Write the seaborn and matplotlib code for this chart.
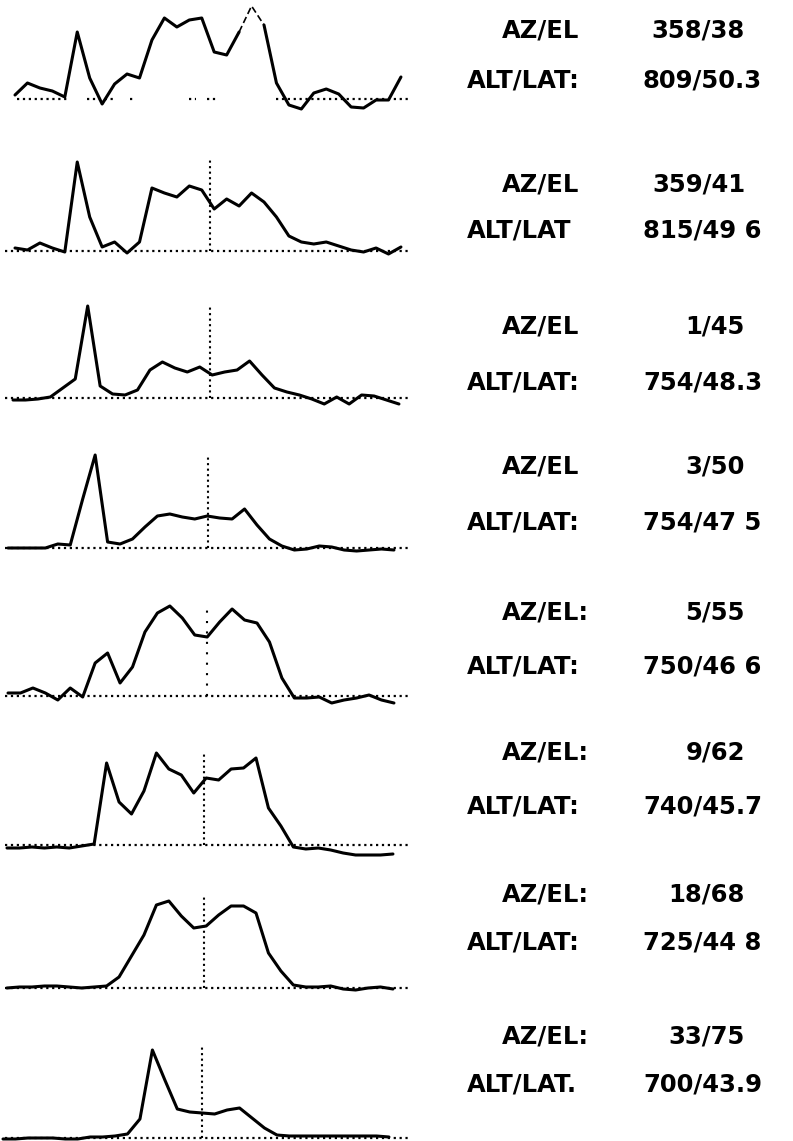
# Stacked scan traces with AZ/EL and ALT/LAT readouts
import matplotlib
matplotlib.use('Agg')
import matplotlib.pyplot as plt
import numpy as np
import pandas as pd
import seaborn as sns

sns.set_theme(style='white')
plt.rcParams['font.family'] = ['DejaVu Sans']

# trace heights per scan (32 samples each)
trace_1 = [4, 16, 11, 8, 2, 67, 21, -5, 15, 25, 21, 59, 81, 72, 79, 81,
           47, 44, 67, 93, 74, 16, -6, -10, 6, 10, 5, -8, -9, -1, -1, 22]
trace_2 = [3, 1, 8, 3, -1, 89, 34, 4, 9, -2, 9, 63, 58, 54, 65, 61,
           42, 52, 45, 58, 49, 34, 15, 9, 7, 9, 5, 1, -1, 3, -3, 4]
trace_3 = [-2, -2, -1, 1, 10, 19, 92, 12, 4, 3, 8, 28, 36, 30, 26, 31,
           23, 26, 28, 37, 23, 10, 6, 3, -1, -6, 1, -6, 3, 2, -2, -6]
trace_4 = [0, 0, 0, 0, 4, 3, 49, 93, 6, 4, 9, 21, 32, 34, 31, 29,
           32, 30, 29, 39, 23, 9, 2, -2, -1, 2, 1, -2, -3, -2, -1, -2]
trace_5 = [3, 3, 8, 3, -4, 8, -1, 33, 43, 13, 29, 64, 83, 90, 78, 61,
           59, 74, 87, 76, 73, 54, 18, -2, -2, -1, -7, -4, -2, 1, -4, -7]
trace_6 = [-3, -3, -2, -3, -2, -3, -1, 1, 82, 43, 31, 54, 92, 76, 70, 52,
           67, 65, 76, 77, 87, 37, 19, -2, -4, -3, -5, -8, -10, -10, -10, -9]
trace_7 = [0, 1, 1, 2, 2, 1, 0, 1, 2, 11, 32, 53, 83, 87, 72, 60,
           62, 73, 82, 82, 75, 35, 17, 3, 1, 1, 2, -1, -2, 0, 1, -1]
trace_8 = [-1, -1, 0, 0, 0, -1, -1, 1, 1, 2, 4, 19, 88, 58, 29, 26,
           25, 24, 28, 30, 20, 10, 3, 2, 2, 2, 2, 2, 2, 2, 2, 1]
traces = [trace_1, trace_2, trace_3, trace_4, trace_5, trace_6, trace_7, trace_8]

# sample index of the reference direction (dotted vertical line)
center_idx = [16.1, 15.7, 15.8, 16.1, 16.0, 15.8, 15.8, 16.0]

az_el = ['358/38', '359/41', '1/45', '3/50', '5/55', '9/62', '18/68', '33/75']
alt_lat = ['809/50.3', '815/49 6', '754/48.3', '754/47 5',
           '750/46 6', '740/45.7', '725/44 8', '700/43.9']
az_label = ['AZ/EL', 'AZ/EL', 'AZ/EL', 'AZ/EL', 'AZ/EL:', 'AZ/EL:', 'AZ/EL:', 'AZ/EL:']
alt_label = ['ALT/LAT:', 'ALT/LAT', 'ALT/LAT:', 'ALT/LAT:',
             'ALT/LAT:', 'ALT/LAT:', 'ALT/LAT:', 'ALT/LAT.']

# layout (pixels of the 793x1141 page)
W, H = 793, 1141
baseline_px = [99, 251, 398, 548, 696, 845, 988, 1138]
az_row_px = [31, 184, 326, 467, 612, 752, 894, 1036]
alt_row_px = [81, 231, 382, 522, 666, 806, 943, 1085]
start_px = [15, 15, 13, 8, 8, 7, 7, 3]
step_px = 12.45
panel_w = 415
y_lo, y_hi = -20, 110
vline_h = 92
fs = 17.5

fig = plt.figure(figsize=(W / 100, H / 100), dpi=100)

for p, tr in enumerate(traces):
    base = baseline_px[p]
    ax = fig.add_axes([0, (H - (base - y_lo)) / H, panel_w / W, (y_hi - y_lo) / H])
    df = pd.DataFrame({'sample': np.arange(len(tr)), 'height': tr})
    x0 = -start_px[p] / step_px
    ax.set_xlim(x0, x0 + panel_w / step_px)
    ax.set_ylim(y_lo, y_hi)
    ax.axis('off')

    # dotted zero line
    if p == 0:
        # first panel: the zero line only shows in patches
        segs = [(0.2, 4.3), (5.8, 8.0), (9.2, 9.5), (14.0, 14.5), (15.4, 16.2), (21.0, 31.6)]
        for a, b in segs:
            ax.plot([a, b], [0, 0], color='black', ls=':', lw=1.6)
    else:
        ax.plot([x0 + 5 / step_px, x0 + 410 / step_px], [0, 0], color='black', ls=':', lw=1.6)
        vls = (0, (1, 4)) if p == 4 else ':'
        ax.plot([center_idx[p]] * 2, [0, vline_h], color='black', ls=vls, lw=1.5)

    if p == 0:
        # the pen skipped around the main peak in the first scan
        sns.lineplot(data=df[df['sample'] <= 18], x='sample', y='height', ax=ax,
                     color='black', lw=2.2)
        sns.lineplot(data=df[df['sample'] >= 20], x='sample', y='height', ax=ax,
                     color='black', lw=2.2)
        sns.lineplot(data=df[(df['sample'] >= 18) & (df['sample'] <= 20)], x='sample',
                     y='height', ax=ax, color='black', lw=1.2, ls=(0, (4, 2)))
    else:
        sns.lineplot(data=df, x='sample', y='height', ax=ax, color='black', lw=2.2)
    ax.set_xlabel('')
    ax.set_ylabel('')

    # readouts
    y_az = 1 - az_row_px[p] / H
    y_alt = 1 - alt_row_px[p] / H
    kw = dict(fontsize=fs, fontweight='bold', va='center', color='black')
    fig.text(502 / W, y_az, az_label[p], ha='left', **kw)
    fig.text(745 / W, y_az, az_el[p], ha='right', **kw)
    fig.text(467 / W, y_alt, alt_label[p], ha='left', **kw)
    fig.text(643 / W, y_alt, alt_lat[p], ha='left', **kw)

fig.savefig('out.png', dpi=100, facecolor='white')
